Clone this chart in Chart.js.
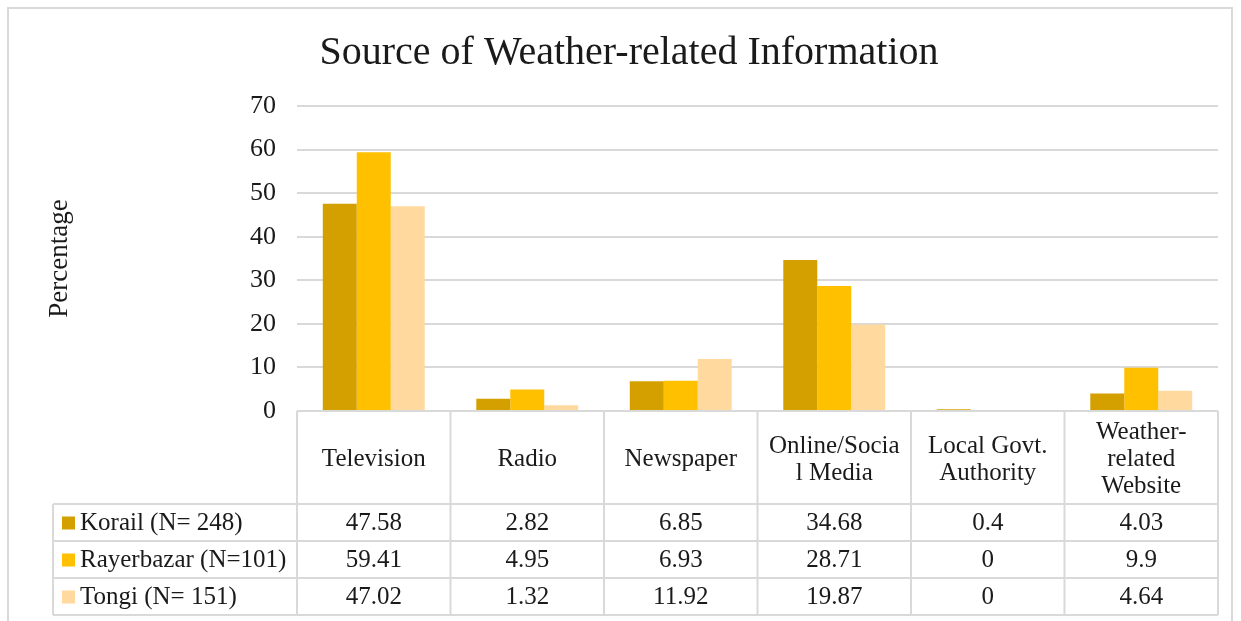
<!DOCTYPE html>
<html>
<head>
<title>Source of Weather-related Information</title>
<script src="https://cdn.jsdelivr.net/npm/chart.js"></script>
<style>
  html, body { margin: 0; padding: 0; background: #fff; }
  #wrap { width: 1241px; height: 621px; }
</style>
</head>
<body>
<div id="wrap"><canvas id="weatherChart" width="1241" height="621"></canvas></div>
<script>
// categories as they wrap in the table header
const categories = [
  ["Television"], ["Radio"], ["Newspaper"],
  ["Online/Socia", "l Media"], ["Local Govt.", "Authority"],
  ["Weather-", "related", "Website"]
];
const seriesNames = ["Korail (N= 248)", "Rayerbazar (N=101)", "Tongi (N= 151)"];
const korail = [47.58, 2.82, 6.85, 34.68, 0.4, 4.03];
const rayerbazar = [59.41, 4.95, 6.93, 28.71, 0, 9.9];
const tongi = [47.02, 1.32, 11.92, 19.87, 0, 4.64];
const yTicks = [0, 10, 20, 30, 40, 50, 60, 70];

const colors = ['#D4A000', '#FFC000', '#FFD99E'];
const FONT = '"Liberation Serif", "DejaVu Serif", serif';
const TEXT = '#1a1a1a';
const LINE = '#d9d9d9';

// frame around the whole chart + the data table under the plot
const dataTable = {
  id: 'dataTable',
  beforeDraw(chart) {
    const ctx = chart.ctx;
    ctx.save();
    ctx.strokeStyle = LINE;
    ctx.lineWidth = 2;
    ctx.strokeRect(8, 8, 1224, 640);
    ctx.restore();
  },
  afterDraw(chart) {
    const ctx = chart.ctx;
    const xs = chart.scales.x;
    const area = chart.chartArea;
    const colW = (area.right - area.left) / categories.length;
    const top = area.bottom; // the 0 gridline doubles as the table's top edge
    const headH = 93, rowH = 37, legendLeft = 53;
    const bottom = top + headH + rowH * chart.data.datasets.length;

    const line = (x1, y1, x2, y2) => {
      ctx.beginPath(); ctx.moveTo(x1, y1); ctx.lineTo(x2, y2); ctx.stroke();
    };

    ctx.save();
    ctx.strokeStyle = LINE;
    ctx.lineWidth = 2;
    for (let r = 0; r <= chart.data.datasets.length; r++) {
      const y = top + headH + r * rowH;
      line(legendLeft, y, area.right, y);
    }
    for (let c = 0; c <= categories.length; c++) {
      const x = area.left + c * colW;
      line(x, top, x, bottom);
    }
    line(legendLeft, top + headH, legendLeft, bottom);

    ctx.fillStyle = TEXT;
    ctx.font = '25px ' + FONT;
    ctx.textAlign = 'center';
    ctx.textBaseline = 'middle';
    const lh = 27;
    categories.forEach((lines, i) => {
      const cx = xs.getPixelForValue(i);
      const y0 = top + headH / 2 + 2 - (lines.length - 1) * lh / 2;
      lines.forEach((t, k) => ctx.fillText(t, cx, y0 + k * lh));
    });

    chart.data.datasets.forEach((ds, r) => {
      const cy = top + headH + r * rowH + rowH / 2;
      ctx.fillStyle = ds.backgroundColor;
      ctx.fillRect(legendLeft + 9, cy - 6, 13, 13);
      ctx.fillStyle = TEXT;
      ctx.textAlign = 'left';
      ctx.fillText(ds.label, legendLeft + 27, cy + 1);
      ctx.textAlign = 'center';
      ds.data.forEach((v, i) => ctx.fillText(String(v), xs.getPixelForValue(i), cy + 1));
    });
    ctx.restore();
  }
};

new Chart(document.getElementById('weatherChart'), {
  type: 'bar',
  data: {
    labels: categories,
    datasets: [
      { label: seriesNames[0], data: korail, backgroundColor: colors[0] },
      { label: seriesNames[1], data: rayerbazar, backgroundColor: colors[1] },
      { label: seriesNames[2], data: tongi, backgroundColor: colors[2] }
    ]
  },
  options: {
    responsive: false,
    animation: false,
    layout: { padding: { left: 40, right: 23, top: 10, bottom: 210 } },
    datasets: { bar: { categoryPercentage: 0.664, barPercentage: 1.0, borderWidth: 0 } },
    plugins: {
      legend: { display: false },
      tooltip: { enabled: false },
      title: {
        display: true,
        text: 'Source of Weather-related Information',
        color: TEXT,
        font: { family: FONT, size: 40, weight: 'normal' },
        padding: { top: 19, bottom: 29 }
      }
    },
    scales: {
      x: { display: false },
      y: {
        min: yTicks[0],
        max: yTicks[yTicks.length - 1],
        ticks: {
          stepSize: yTicks[1] - yTicks[0],
          color: TEXT,
          padding: 21,
          font: { family: FONT, size: 26 }
        },
        grid: { color: LINE, lineWidth: 2, drawTicks: false },
        border: { display: false },
        title: {
          display: true,
          text: 'Percentage',
          color: TEXT,
          font: { family: FONT, size: 27 },
          padding: { top: 4, bottom: 0 }
        },
        afterFit(scale) { scale.width = 257; }
      }
    }
  },
  plugins: [dataTable]
});
</script>
</body>
</html>
